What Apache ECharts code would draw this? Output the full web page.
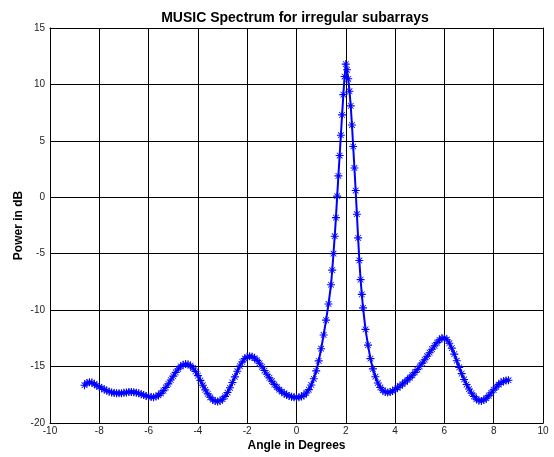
<!DOCTYPE html>
<html>
<head>
<meta charset="utf-8">
<title>MUSIC Spectrum for irregular subarrays</title>
<script src="https://cdn.jsdelivr.net/npm/echarts@6/dist/echarts.min.js"></script>
<style>
    html, body { margin: 0; padding: 0; background: #fff; }
    #chart { width: 554px; height: 457px; }
</style>
</head>
<body>
<div id="chart"></div>
<script>
// 角度（度）
const angles = [
    -8.6, -8.5, -8.4, -8.3, -8.2, -8.1, -8.0, -7.9, -7.8, -7.7,
    -7.6, -7.5, -7.4, -7.3, -7.2, -7.1, -7.0, -6.9, -6.8, -6.7,
    -6.6, -6.5, -6.4, -6.3, -6.2, -6.1, -6.0, -5.9, -5.8, -5.7,
    -5.6, -5.5, -5.4, -5.3, -5.2, -5.1, -5.0, -4.9, -4.8, -4.7,
    -4.6, -4.5, -4.4, -4.3, -4.2, -4.1, -4.0, -3.9, -3.8, -3.7,
    -3.6, -3.5, -3.4, -3.3, -3.2, -3.1, -3.0, -2.9, -2.8, -2.7,
    -2.6, -2.5, -2.4, -2.3, -2.2, -2.1, -2.0, -1.9, -1.8, -1.7,
    -1.6, -1.5, -1.4, -1.3, -1.2, -1.1, -1.0, -0.9, -0.8, -0.7,
    -0.6, -0.5, -0.4, -0.3, -0.2, -0.1, 0.0, 0.1, 0.2, 0.3,
    0.4, 0.5, 0.6, 0.7, 0.8, 0.9, 1.0, 1.1, 1.2, 1.3,
    1.4, 1.45, 1.5, 1.55, 1.6, 1.65, 1.7, 1.75, 1.8, 1.85,
    1.9, 1.95, 2.0, 2.05, 2.1, 2.15, 2.2, 2.25, 2.3, 2.35,
    2.4, 2.45, 2.5, 2.55, 2.6, 2.65, 2.7, 2.8, 2.9, 3.0,
    3.1, 3.2, 3.3, 3.4, 3.5, 3.6, 3.7, 3.8, 3.9, 4.0,
    4.1, 4.2, 4.3, 4.4, 4.5, 4.6, 4.7, 4.8, 4.9, 5.0,
    5.1, 5.2, 5.3, 5.4, 5.5, 5.6, 5.7, 5.8, 5.9, 6.0,
    6.1, 6.2, 6.3, 6.4, 6.5, 6.6, 6.7, 6.8, 6.9, 7.0,
    7.1, 7.2, 7.3, 7.4, 7.5, 7.6, 7.7, 7.8, 7.9, 8.0,
    8.1, 8.2, 8.3, 8.4, 8.5, 8.6
];

// 功率（dB）
const power = [
    -16.65, -16.45, -16.38, -16.42, -16.55, -16.68, -16.8, -16.92, -17.03, -17.13,
    -17.22, -17.29, -17.34, -17.36, -17.37, -17.36, -17.33, -17.29, -17.26, -17.25,
    -17.27, -17.31, -17.37, -17.45, -17.53, -17.6, -17.66, -17.7, -17.71, -17.66,
    -17.55, -17.37, -17.13, -16.85, -16.53, -16.19, -15.85, -15.51, -15.21, -14.98,
    -14.84, -14.78, -14.8, -14.92, -15.13, -15.43, -15.8, -16.22, -16.65, -17.06,
    -17.42, -17.72, -17.94, -18.06, -18.1, -18.04, -17.89, -17.64, -17.3, -16.88,
    -16.41, -15.91, -15.41, -14.95, -14.58, -14.3, -14.14, -14.08, -14.12, -14.25,
    -14.45, -14.71, -15.02, -15.35, -15.68, -16.0, -16.3, -16.58, -16.83, -17.05,
    -17.23, -17.38, -17.5, -17.6, -17.67, -17.72, -17.74, -17.72, -17.66, -17.54,
    -17.34, -17.04, -16.63, -16.08, -15.38, -14.5, -13.42, -12.2, -10.88, -9.45,
    -7.75, -6.45, -5.0, -3.45, -1.8, 0.1, 1.9, 3.7, 5.5, 7.3,
    9.1, 10.7, 11.8, 11.3, 10.5, 9.4, 8.1, 6.4, 4.5, 2.6,
    0.6, -1.5, -3.6, -5.6, -7.3, -8.6, -9.8, -11.7, -13.1, -14.3,
    -15.2, -15.9, -16.45, -16.85, -17.1, -17.26, -17.3, -17.26, -17.16, -17.03,
    -16.88, -16.72, -16.55, -16.37, -16.18, -15.98, -15.76, -15.52, -15.26, -14.98,
    -14.69, -14.39, -14.08, -13.77, -13.46, -13.16, -12.88, -12.63, -12.47, -12.46,
    -12.62, -12.93, -13.37, -13.9, -14.48, -15.07, -15.63, -16.14, -16.59, -16.99,
    -17.35, -17.65, -17.88, -18.02, -18.05, -17.97, -17.8, -17.57, -17.32, -17.06,
    -16.81, -16.59, -16.42, -16.3, -16.23, -16.21
];

// 坐标轴刻度
const xTicks = [-10, -8, -6, -4, -2, 0, 2, 4, 6, 8, 10];
const yTicks = [-20, -15, -10, -5, 0, 5, 10, 15];

const FONT = '"Liberation Sans", Arial, Helvetica, sans-serif';

// MATLAB 风格的星号标记
const STAR = 'path://M-0.7,-5L0.7,-5L0.7,5L-0.7,5Z' +
    'M-5,-0.7L5,-0.7L5,0.7L-5,0.7Z' +
    'M-3.9,-3.2L-3.2,-3.9L3.9,3.2L3.2,3.9Z' +
    'M3.2,-3.9L3.9,-3.2L-3.2,3.9L-3.9,3.2Z';

const chart = echarts.init(document.getElementById('chart'), null, { renderer: 'canvas' });

function valueAxis(ticks, pos, main, margin) {
    return {
        type: 'value',
        position: pos,
        min: ticks[0],
        max: ticks[ticks.length - 1],
        interval: ticks[1] - ticks[0],
        axisLine: { show: true, onZero: false, lineStyle: { color: '#000', width: 1 } },
        axisTick: { show: true, inside: true, length: 4, lineStyle: { color: '#000' } },
        axisLabel: {
            show: main,
            color: '#222',
            fontFamily: FONT,
            fontSize: 10,
            margin: margin
        },
        splitLine: { show: main, lineStyle: { color: '#000', width: 1 } }
    };
}

const xMain = valueAxis(xTicks, 'bottom', true, 3);
xMain.name = 'Angle in Degrees';
xMain.nameLocation = 'middle';
xMain.nameGap = 17;
xMain.nameMoveOverlap = false;
xMain.nameTextStyle = { color: '#000', fontFamily: FONT, fontSize: 12, fontWeight: 'bold' };

const yMain = valueAxis(yTicks, 'left', true, 5);
yMain.name = 'Power in dB';
yMain.nameLocation = 'middle';
yMain.nameGap = 25;
yMain.nameMoveOverlap = false;
yMain.nameTextStyle = { color: '#000', fontFamily: FONT, fontSize: 12, fontWeight: 'bold' };

const option = {
    animation: false,
    backgroundColor: '#fff',
    title: {
        text: 'MUSIC Spectrum for irregular subarrays',
        left: 290,
        top: 6,
        textAlign: 'center',
        textStyle: { color: '#000', fontFamily: FONT, fontSize: 14, fontWeight: 'bold' }
    },
    grid: { left: 50, right: 11, top: 28, bottom: 28, containLabel: false },
    xAxis: [xMain, valueAxis(xTicks, 'top', false, 5)],
    yAxis: [yMain, valueAxis(yTicks, 'right', false, 5)],
    series: [{
        type: 'line',
        xAxisIndex: 0,
        yAxisIndex: 0,
        data: angles.map((a, i) => [a, power[i]]),
        symbol: STAR,
        symbolSize: 8,
        showAllSymbol: true,
        lineStyle: { color: '#0000ff', width: 2 },
        itemStyle: { color: '#0000ff' }
    }]
};

chart.setOption(option);
</script>
</body>
</html>
